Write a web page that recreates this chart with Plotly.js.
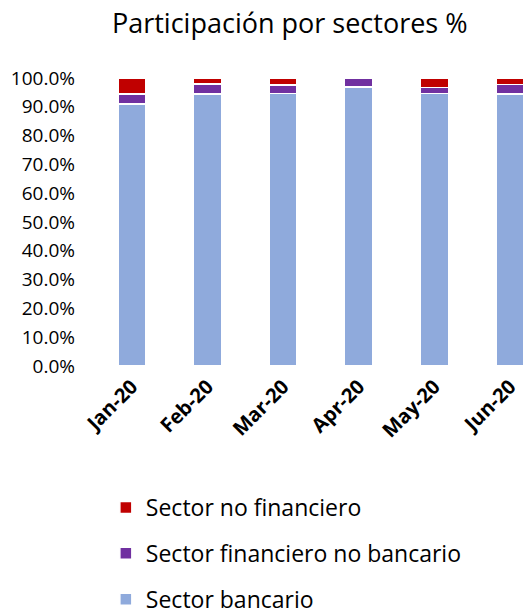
<!DOCTYPE html>
<html>
<head>
<meta charset="utf-8">
<script src="https://cdn.plot.ly/plotly-3.0.1.min.js"></script>
<style>html,body{margin:0;padding:0;background:#fff;}#chart{width:524px;height:615px;}</style>
</head>
<body>
<div id="chart"></div>
<script>
const months = ["Jan-20", "Feb-20", "Mar-20", "Apr-20", "May-20", "Jun-20"];
const sectorBancario = [0.909, 0.945, 0.946, 0.969, 0.946, 0.945];
const sectorFinancieroNoBancario = [0.036, 0.035, 0.029, 0.031, 0.021, 0.032];
const sectorNoFinanciero = [0.055, 0.020, 0.025, 0.000, 0.033, 0.023];
const yTicks = [0, 0.1, 0.2, 0.3, 0.4, 0.5, 0.6, 0.7, 0.8, 0.9, 1.0];

const FONT = "Open Sans, sans-serif";
const mk = (name, y, color, grp, rank) => ({
  type: "bar", name: name, x: months, y: y, width: 0.37,
  legendgroup: grp, legendrank: rank,
  marker: {color: color, line: {color: "#ffffff", width: 1.5}},
  hoverinfo: "skip"
});

const data = [
  mk("Sector bancario", sectorBancario, "#8FAADC", "a", 3),
  mk("Sector financiero no bancario", sectorFinancieroNoBancario, "#7030A0", "b", 2),
  mk("Sector no financiero", sectorNoFinanciero, "#C00000", "c", 1)
];

const layout = {
  width: 524, height: 615,
  barmode: "stack",
  paper_bgcolor: "#ffffff", plot_bgcolor: "#ffffff",
  margin: {l: 94, r: 0, t: 78, b: 249, autoexpand: false},
  font: {family: FONT, color: "#000000"},
  title: {
    text: "Participación por sectores %",
    font: {family: FONT, size: 27, color: "#000000"},
    x: 0.553, xanchor: "center", xref: "container",
    y: 1 - 24/615, yanchor: "middle", yref: "container"
  },
  xaxis: {
    type: "category",
    range: [-0.5, 5.185],
    automargin: false,
    tickangle: -45,
    tickfont: {family: FONT, size: 20, color: "#000000", weight: "bold"},
    ticklabelstandoff: 4,
    showgrid: false, zeroline: false, showline: false, ticks: ""
  },
  yaxis: {
    range: [0, 1],
    automargin: false,
    tickvals: yTicks,
    tickformat: ".1%",
    tickfont: {family: FONT, size: 19, color: "#000000"},
    ticklabelstandoff: 18,
    showgrid: false, zeroline: false, showline: false, ticks: ""
  },
  showlegend: true,
  legend: {
    orientation: "v",
    traceorder: "grouped",
    tracegroupgap: 13,
    xref: "container", yref: "container",
    x: 0.202, xanchor: "left",
    y: 1 - 486/615, yanchor: "top",
    font: {family: FONT, size: 23, color: "#000000"},
    bgcolor: "rgba(0,0,0,0)"
  }
};

Plotly.newPlot("chart", data, layout, {displayModeBar: false, staticPlot: true});
</script>
</body>
</html>
